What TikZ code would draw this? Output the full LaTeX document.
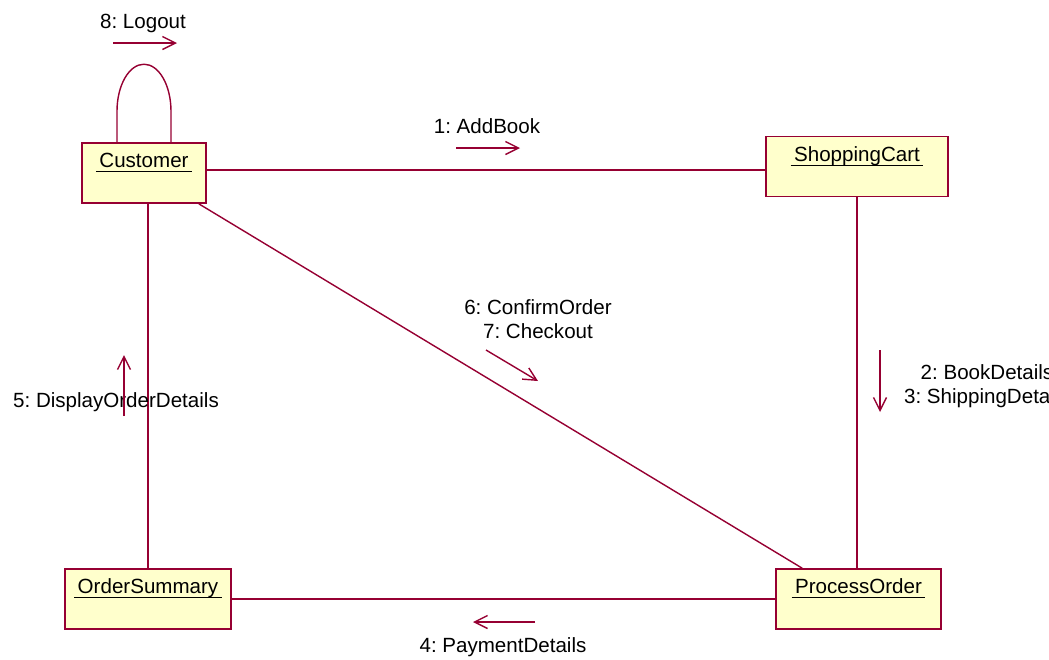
\documentclass[tikz,border=0pt]{standalone}
\usepackage{fontspec}
\setmainfont{Liberation Sans}
\usetikzlibrary{arrows.meta,positioning}
\frenchspacing

\definecolor{roseline}{RGB}{150,0,50}
\definecolor{rosefill}{RGB}{255,255,204}

% object name, underlined
\newcommand\uname[1]{\setbox0\hbox{#1}\rlap{\hspace{-2pt}\rule[-2.8pt]{\dimexpr\wd0+4pt\relax}{0.8pt}}\box0}

\begin{document}
\begin{tikzpicture}[
  every node/.style={font=\fontsize{11.7}{13.6}\selectfont},
  obj/.style={draw=roseline, line width=0.9pt, fill=rosefill, inner sep=0pt, text height=0.49cm, text depth=0.71cm},
  assoc/.style={roseline, line width=0.8pt},
  msg/.style={roseline, line width=0.8pt, -{Straight Barb[length=2.6mm,width=2.6mm]}},
  lbl/.style={anchor=base, align=center}
]
\useasboundingbox (0,0) rectangle (20.98,-13.18);

% objects
\node[obj, minimum width=2.48cm] (customer) at (2.88,-3.46) {\uname{Customer}};
\node[obj, minimum width=3.64cm] (cart) at (17.14,-3.33) {\uname{ShoppingCart}};
\node[obj, minimum width=3.32cm] (summary) at (2.96,-11.98) {\uname{OrderSummary}};
\node[obj, minimum width=3.3cm] (process) at (17.17,-11.98) {\uname{ProcessOrder}};

% links
\draw[assoc] ([yshift=0.06cm]customer.east) -- ([yshift=-0.07cm]cart.west);
\draw[assoc] (customer.south -| summary.north) -- (summary.north);
\draw[assoc] (cart.south) -- (cart.south |- process.north);
\draw[assoc] (summary.east) -- (summary.east -| process.west);
\draw[assoc] ([xshift=-0.16cm]customer.south east) -- ([xshift=0.54cm]process.north west);
\draw[assoc] ([xshift=-0.54cm]customer.north) -- ++(0,0.62) arc (180:0:0.54 and 0.94) -- ([xshift=0.54cm]customer.north); % self link

% messages
\node[lbl] (logout) at (2.86,-0.56) {8: Logout};
\draw[msg] ([shift={(-0.60,-0.30)}]logout.base) -- ++(1.28,0);

\node[lbl] (addbook) at (9.74,-2.66) {1: AddBook};
\draw[msg] ([shift={(-0.62,-0.30)}]addbook.base) -- ++(1.28,0);

\node[lbl] (confirm) at (10.76,-6.76) {6: ConfirmOrder\\7: Checkout};
\draw[msg] ([shift={(-1.04,-0.24)}]confirm.base) -- ++(1.04,-0.62);

\node[lbl] (details) at (19.74,-8.06) {2: BookDetails\\3: ShippingDetails};
\draw[msg] ([shift={(-2.14,1.06)}]details.base) -- ++(0,-1.24);

\node[lbl] (display) at (2.32,-8.14) {5: DisplayOrderDetails};
\draw[msg] ([shift={(0.16,-0.18)}]display.base) -- ++(0,1.22);

\node[lbl] (payment) at (10.06,-13.04) {4: PaymentDetails};
\draw[msg] ([shift={(0.64,0.60)}]payment.base) -- ++(-1.24,0);

\end{tikzpicture}
\end{document}
